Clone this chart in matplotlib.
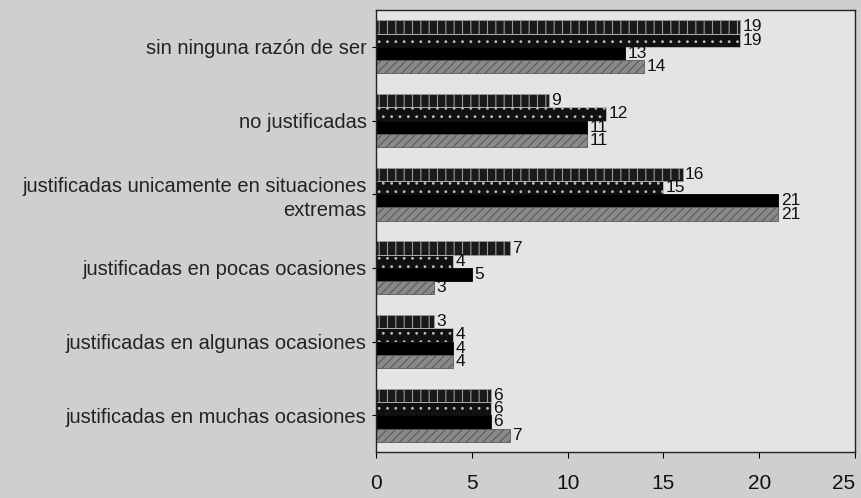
import numpy as np
import matplotlib
matplotlib.use('Agg')
import matplotlib.pyplot as plt

plt.rcParams['font.family'] = ['Liberation Sans', 'DejaVu Sans']
plt.rcParams['hatch.linewidth'] = 0.8

categories = [
    'sin ninguna razón de ser',
    'no justificadas',
    'justificadas unicamente en situaciones\nextremas',
    'justificadas en pocas ocasiones',
    'justificadas en algunas ocasiones',
    'justificadas en muchas ocasiones',
]
serie_a = [19, 9, 16, 7, 3, 6]
serie_b = [19, 12, 15, 4, 4, 6]
serie_c = [13, 11, 21, 5, 4, 6]
serie_d = [14, 11, 21, 3, 4, 7]
x_ticks = [0, 5, 10, 15, 20, 25]

series = [serie_a, serie_b, serie_c, serie_d]
styles = [
    dict(color='#1a1a1a', hatch='||', edgecolor='#9a9a9a'),
    dict(color='#111111', hatch='..', edgecolor='#bbbbbb'),
    dict(color='#000000', edgecolor='#000000'),
    dict(color='#8a8a8a', hatch='////', edgecolor='#5a5a5a'),
]

fig = plt.figure(figsize=(8.61, 4.98), dpi=100)
fig.patch.set_facecolor('#cfcfcf')
ax = fig.add_axes([0.437, 0.092, 0.556, 0.888])
ax.set_facecolor('#e4e4e4')

y = np.arange(len(categories))
h = 0.18
for i, (vals, st) in enumerate(zip(series, styles)):
    pos = y + (i - 1.5) * h
    ax.barh(pos, vals, height=h, linewidth=0.6, **st)
    for p, v in zip(pos, vals):
        ax.text(v + 0.12, p, str(v), va='center', ha='left', fontsize=12.5, color='#111111')

ax.set_xlim(0, 25)
ax.set_ylim(len(categories) - 0.5, -0.5)
ax.set_yticks(y)
ax.set_yticklabels(categories, fontsize=14.5, color='#222222', linespacing=1.3)
ax.set_xticks(x_ticks)
ax.set_xticklabels([str(t) for t in x_ticks], fontsize=15, color='#111111')
ax.get_xticklabels()[-1].set_ha('right')
ax.tick_params(axis='x', pad=12, length=4, direction='out')
ax.tick_params(axis='y', length=3, pad=4)
for s in ax.spines.values():
    s.set_color('#222222')
    s.set_linewidth(1.0)

fig.savefig('out.png', dpi=100, facecolor=fig.get_facecolor())
